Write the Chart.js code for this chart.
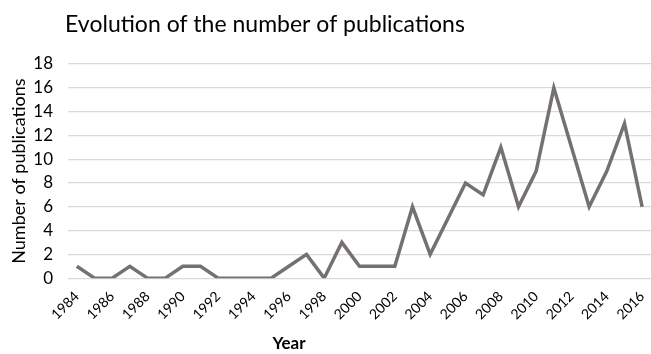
<!DOCTYPE html>
<html>
<head>
<meta charset="utf-8">
<script src="https://cdn.jsdelivr.net/npm/chart.js@4/dist/chart.umd.min.js"></script>
<style>
  html, body { margin: 0; padding: 0; background: #fff; }
  #wrap { width: 651px; height: 354px; }
</style>
</head>
<body>
<div id="wrap"><canvas id="myChart"></canvas></div>
<script>
// years shown on the x axis
const years = [1984, 1985, 1986, 1987, 1988, 1989, 1990, 1991, 1992, 1993, 1994,
    1995, 1996, 1997, 1998, 1999, 2000, 2001, 2002, 2003, 2004, 2005, 2006,
    2007, 2008, 2009, 2010, 2011, 2012, 2013, 2014, 2015, 2016];
// publications per year
const publications = [1, 0, 0, 1, 0, 0, 1, 1, 0, 0, 0,
    0, 1, 2, 0, 3, 1, 1, 1, 6, 2, 5, 8,
    7, 11, 6, 9, 16, 11, 6, 9, 13, 6];
const yTicks = [0, 2, 4, 6, 8, 10, 12, 14, 16, 18];

const chartTitle = 'Evolution of the number of publications';
const xTitle = 'Year';
const yTitle = 'Number of publications';

const fontFamily = 'Lato, "Open Sans", sans-serif';

// title and x axis title sit off-centre in the original, so draw them by hand
const titlesPlugin = {
    id: 'titles',
    afterDraw(chart) {
        const ctx = chart.ctx;
        ctx.save();
        ctx.fillStyle = '#000';
        ctx.textAlign = 'center';
        ctx.textBaseline = 'middle';
        ctx.font = '23px ' + fontFamily;
        ctx.fillText(chartTitle, 265, 25);
        ctx.font = 'bold 17px ' + fontFamily;
        ctx.fillText(xTitle, 289, 344);
        ctx.restore();
    }
};

const ctx = document.getElementById('myChart').getContext('2d');
const myChart = new Chart(ctx, {
    type: 'line',
    data: {
        labels: years,
        datasets: [{
            label: 'Publications',
            data: publications,
            borderColor: '#767171',
            borderWidth: 3.5,
            pointRadius: 0,
            tension: 0,
            fill: false
        }]
    },
    options: {
        responsive: true,
        maintainAspectRatio: false,
        animation: false,
        layout: {
            padding: { top: 64, left: 2, right: 0, bottom: 21 }
        },
        plugins: {
            legend: { display: false },
            tooltip: { enabled: false },
            title: { display: false }
        },
        scales: {
            x: {
                offset: true,
                grid: { display: false, drawTicks: false },
                border: { display: false },
                // rotated labels end at their tick, no extra room needed at the sides
                afterFit: axis => {
                    axis.paddingLeft = 0;
                    axis.paddingRight = 0;
                },
                ticks: {
                    autoSkip: false,
                    maxRotation: 45,
                    minRotation: 45,
                    padding: 10,
                    color: '#000',
                    font: { family: fontFamily, size: 14 },
                    callback: function(value, index) {
                        return index % 2 === 0 ? years[index] : '';
                    }
                }
            },
            y: {
                min: 0,
                max: 18,
                afterBuildTicks: axis => {
                    axis.ticks = yTicks.map(v => ({ value: v }));
                },
                afterFit: axis => {
                    axis.width = 66;
                },
                grid: { color: '#d9d9d9', lineWidth: 1.3, drawTicks: false },
                border: { display: false },
                ticks: {
                    autoSkip: false,
                    padding: 15,
                    color: '#000',
                    font: { family: fontFamily, size: 17 }
                },
                title: {
                    display: true,
                    text: yTitle,
                    color: '#000',
                    font: { family: fontFamily, size: 18 },
                    padding: { top: 6, bottom: 2 }
                }
            }
        }
    },
    plugins: [titlesPlugin]
});
</script>
</body>
</html>
